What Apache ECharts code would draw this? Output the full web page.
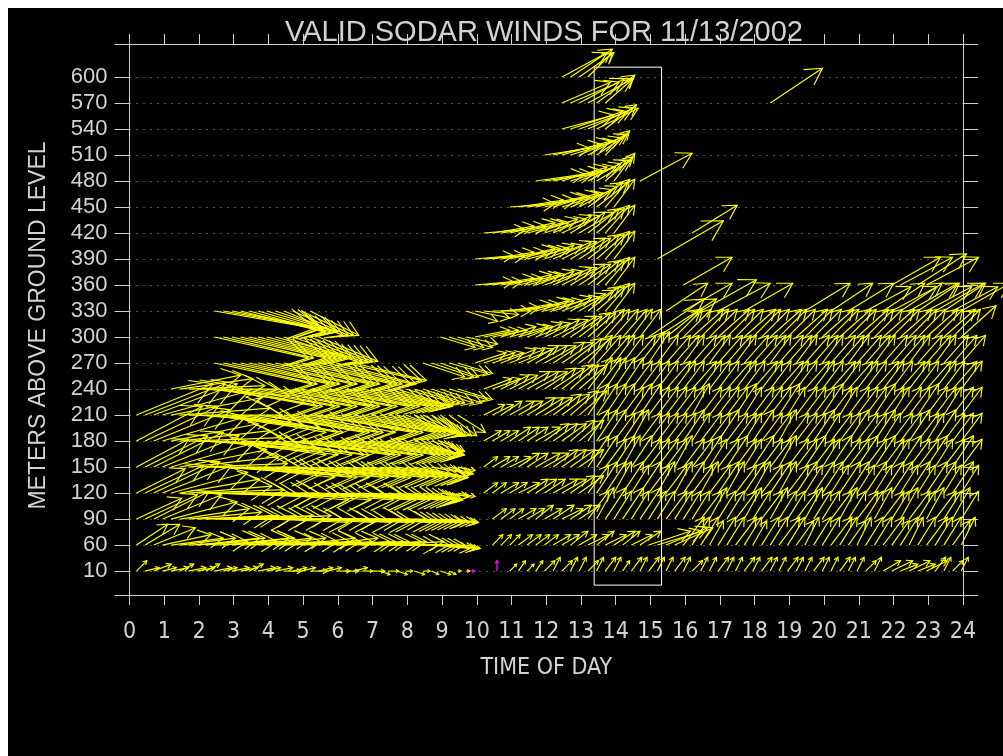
<!DOCTYPE html>
<html>
<head>
<meta charset="utf-8">
<script src="https://cdn.jsdelivr.net/npm/echarts@6/dist/echarts.min.js"></script>
<style>
  html, body { margin: 0; padding: 0; background: #ffffff; }
  #chart { position: absolute; left: 8px; top: 8px; width: 995px; height: 748px; background: #000000; }
</style>
</head>
<body>
<div id="chart"></div>
<script>
// Sodar wind profile: one arrow per 15-minute average at each range gate.
// u = eastward, v = northward component (kt); arrow points where the wind blows to.
const _ = null;

const TITLE = 'VALID SODAR WINDS FOR 11/13/2002';
const HEIGHTS = [10, 60, 90, 120, 150, 180, 210, 240, 270, 300, 330, 360, 390, 420, 450, 480, 510, 540, 570, 600];
const HOURS = [0, 1, 2, 3, 4, 5, 6, 7, 8, 9, 10, 11, 12, 13, 14, 15, 16, 17, 18, 19, 20, 21, 22, 23, 24];
const FIRST_SLOT_HOUR = 0.2;    // first averaging period
const SLOT_HOURS = 0.25;        // 15-minute averages

const u010 = [3,4,5,4,5,4,5,5,4,5,4,5, 5,4,5,4,5,5,4,4,5,4,4,4, 4,4,3,4,3,3,3,2,3,2,2,3, 2,1,1,_,_,_,_,2,2,2,2,3,
              2,3,2,2,3,2,3,2,2,3,2,3, 2,2,3,2,3,2,2,3,2,2,3,2, 3,2,2,3,2,2,3,2,2,3,2,2, 3,2,5,6,5,6,5,6,3,2,3,2];
const v010 = [3,1,2,1,1,2,1,1,2,1,1,1, 1,2,1,1,1,0,1,1,0,1,1,0, 0,1,0,0,-1,0,-1,0,-1,0,-1,-1, -1,0,0,_,_,_,_,2,3,2,3,3,
              4,3,4,4,3,4,4,4,3,4,4,4, 4,4,4,4,3,4,4,4,4,4,4,4, 4,4,4,4,4,4,4,4,4,4,4,4, 3,4,3,3,2,3,2,3,4,4,3,4];

const u060 = [9,10,12,14,15,16,17,18,17,18,19,18, 17,18,18,17,18,19,18,17,18,17,18,17, 17,16,17,16,17,16,15,14,13,12,11,10, 8,6,4,_,_,3,3,3,4,4,4,4,
              5,5,5,5,6,5,6,6,5,6,6,12, 13,12,11,6,5,5,4,5,5,6,5,4, 5,5,6,5,5,4,5,5,6,5,5,4, 5,5,6,5,5,4,5,6,5,5,5,4];
const v060 = [6,6,5,3,2,2,1,2,2,1,2,2, 1,2,1,2,1,1,2,1,1,2,1,1, 1,1,1,1,0,1,0,0,0,0,-1,-1, -1,-1,-1,_,_,3,3,3,3,3,3,3,
              3,3,4,3,3,4,3,4,4,3,4,4, 4,5,5,8,8,8,7,8,8,8,8,7, 8,8,8,8,7,8,8,8,8,8,7,8, 8,8,8,7,8,8,8,8,8,8,7,8];

const u090 = [13,15,16,17,19,20,21,22,21,22,21,22, 21,22,21,22,21,21,22,21,20,21,22,21, 20,21,20,19,18,17,16,15,14,12,11,10, 8,6,_,_,_,4,4,4,5,5,5,5,
              6,6,6,6,6,5,6,5,6,5,6,5, 5,6,5,5,5,6,5,5,5,6,5,5, 6,5,5,5,6,5,5,5,6,5,5,6, 5,5,6,5,5,6,5,5,6,5,5,5];
const v090 = [6,7,8,7,5,3,2,1,1,0,1,0, 1,0,1,0,-1,0,0,-1,0,-1,0,-1, -1,0,-1,-1,-1,-1,-1,-1,-1,-1,-1,-1, -1,-1,_,_,_,3,3,3,3,3,4,3,
              4,3,4,4,8,9,9,8,9,8,9,8, 8,8,8,8,8,8,9,8,8,8,9,8, 8,9,8,8,8,9,8,8,8,9,8,8, 8,9,8,8,9,8,8,9,8,8,9,8];

const u120 = [14,17,19,20,22,23,24,25,24,25,26,25, 24,25,26,25,24,25,24,25,24,25,24,23, 23,22,22,21,20,19,17,15,13,11,9,8, 6,5,_,_,4,4,5,5,6,6,6,6,
              7,7,7,7,6,6,6,5,6,5,6,6, 5,6,5,6,6,5,6,6,5,6,6,5, 6,6,5,6,6,5,6,6,5,6,6,5, 6,5,6,6,5,6,5,6,6,5,6,5];
const v120 = [7,8,9,8,6,4,2,1,0,-1,-1,0, -1,-1,-2,-1,-1,-2,-1,-1,-2,-1,-2,-2, -2,-2,-2,-2,-2,-2,-2,-2,-2,-2,-2,-1, -1,-1,_,_,3,3,3,3,3,4,4,4,
              4,4,5,5,8,9,9,9,9,8,9,8, 9,8,9,9,8,9,8,9,9,8,9,9, 8,9,9,8,9,8,9,9,8,9,9,8, 9,8,9,9,8,9,8,9,9,8,9,8];

const u150 = [15,18,20,22,24,25,26,26,27,26,27,26, 27,26,27,26,27,26,26,25,26,25,24,25, 24,24,23,22,22,21,20,18,15,13,11,9, 7,5,_,_,4,5,5,6,6,6,7,7,
              7,7,7,7,6,6,6,6,5,6,6,6, 6,6,5,6,6,6,5,6,6,6,5,6, 6,6,5,6,6,6,6,5,6,6,6,6, 6,6,6,5,6,6,6,6,5,6,6,6];
const v150 = [8,9,10,9,7,5,3,1,0,-1,-2,-2, -3,-2,-3,-3,-3,-2,-3,-3,-3,-3,-3,-3, -3,-3,-3,-3,-3,-3,-3,-3,-3,-3,-2,-2, -2,-1,_,_,3,3,3,3,4,4,4,4,
              5,5,5,5,9,9,8,9,9,9,8,8, 8,8,9,8,8,9,8,8,9,8,8,9, 8,8,9,8,8,9,8,8,9,8,8,9, 8,9,8,8,9,8,8,9,8,8,9,8];

const u180 = [19,21,22,24,25,26,27,27,28,27,28,27, 28,27,27,28,27,27,28,27,26,27,26,25, 26,25,24,23,22,21,19,17,14,11,9,7, _,_,_,_,5,5,5,6,6,6,7,7,
              7,7,7,7,6,6,6,6,6,5,6,6, 6,6,6,6,5,6,6,6,6,6,5,6, 6,6,5,6,6,6,6,5,6,6,6,6, 6,6,5,6,6,6,6,5,6,6,6,6];
const v180 = [10,10,9,7,5,3,1,-1,-2,-3,-3,-4, -4,-3,-4,-4,-4,-3,-4,-4,-4,-4,-4,-4, -4,-4,-4,-4,-4,-4,-4,-4,-4,-4,-3,-3, _,_,_,_,3,3,3,4,4,4,4,5,
              5,5,6,6,9,9,9,8,9,9,8,8, 8,8,8,9,8,8,8,9,8,8,8,9, 8,8,9,8,8,8,9,8,8,8,9,8, 8,9,8,8,8,9,8,8,9,8,8,8];

const u210 = [22,23,24,25,26,26,27,27,28,27,28,27, 28,27,27,28,27,27,26,27,26,27,26,25, 26,25,24,23,22,20,18,16,14,12,10,9, 8,8,_,_,6,6,6,7,7,8,8,8,
              8,8,8,8,6,6,6,6,6,6,6,6, 6,6,6,6,5,6,6,6,6,6,5,6, 6,6,6,5,6,6,6,6,6,5,6,6, 6,6,6,5,6,6,6,6,6,5,6,6];
const v210 = [9,9,9,7,5,2,0,-2,-3,-4,-4,-5, -5,-5,-4,-5,-5,-5,-5,-5,-4,-5,-5,-5, -5,-5,-5,-5,-5,-5,-5,-6,-6,-6,-6,-6, -6,-5,_,_,3,3,4,4,4,5,5,5,
              6,6,7,7,9,9,9,9,8,9,9,8, 8,8,8,8,9,8,8,8,8,9,8,8, 8,8,9,8,8,8,8,9,8,8,8,8, 8,9,8,8,8,8,9,8,8,8,8,8];

const u240 = [_,_,_,_,20,21,22,23,24,26,27,26, 27,26,27,26,27,26,25,26,25,26,25,24, 24,23,22,21,20,18,16,14,13,12,12,12, 11,10,_,_,8,8,8,8,9,9,9,9,
              9,9,8,8,7,7,6,6,6,6,6,6, 6,7,6,6,7,6,6,6,7,6,6,7, 6,6,7,6,6,7,6,6,7,6,7,6, 6,7,6,6,7,6,6,7,6,6,7,6];
const v240 = [_,_,_,_,4,3,1,0,-2,-4,-5,-5, -5,-5,-5,-5,-5,-5,-5,-5,-5,-5,-5,-5, -5,-5,-5,-5,-5,-5,-5,-4,-4,-4,-4,-4, -3,-3,_,_,3,3,4,4,5,5,5,6,
              6,7,7,7,9,9,9,9,9,8,8,8, 8,8,8,8,8,8,8,8,8,8,8,8, 8,8,8,8,8,8,8,8,8,8,8,8, 8,8,8,8,8,8,8,8,8,8,8,8];

const u270 = [_,_,_,_,_,_,_,_,_,28,27,28, 27,26,27,26,27,26,25,26,25,24,24,23, 22,21,_,_,_,_,_,_,_,12,12,11, 11,10,_,9,9,9,10,10,10,9,9,9,
              9,9,9,9,7,7,7,6,6,7,7,6, 6,7,7,6,7,7,6,7,7,6,7,7, 7,6,7,7,6,7,7,6,7,7,6,7, 7,6,7,7,7,6,7,7,6,7,7,7];
const v270 = [_,_,_,_,_,_,_,_,_,-6,-6,-6, -6,-6,-6,-6,-6,-6,-6,-6,-6,-6,-6,-6, -5,-5,_,_,_,_,_,_,_,-4,-4,-4, -3,-3,_,3,3,3,4,4,4,5,5,5,
              6,6,7,7,8,8,8,8,8,8,9,9, 8,8,8,8,8,8,8,8,8,8,8,8, 8,8,8,8,8,8,8,8,8,8,8,8, 8,8,8,8,8,8,8,8,8,8,8,8];

const u300 = [_,_,_,_,_,_,_,_,_,27,26,27, 26,25,24,23,22,21,20,19,18,17,_,_, _,_,_,_,_,_,_,_,_,_,_,10, 10,10,9,10,10,10,10,11,10,10,10,10,
              10,10,9,9,8,8,7,7,7,6,6,16, 17,10,8,8,9,8,8,9,8,8,9,8, 8,9,8,8,9,8,8,9,8,9,8,9, 8,8,9,8,9,8,8,9,8,9,8,10];
const v300 = [_,_,_,_,_,_,_,_,_,-6,-6,-6, -6,-6,-6,-6,-6,-7,-7,-7,-7,-7,_,_, _,_,_,_,_,_,_,_,_,_,_,-3, -3,-3,-2,2,2,2,3,3,3,4,4,5,
              5,6,6,7,7,8,8,8,8,8,8,11, 11,8,8,8,8,8,8,8,8,8,8,8, 8,8,8,8,8,8,8,8,8,8,8,8, 8,8,8,8,8,8,8,8,8,8,8,9];

const u330 = [_,_,_,_,_,_,_,_,_,29,28,26, 24,22,21,20,18,17,16,15,14,_,_,_, _,_,_,_,_,_,_,_,_,_,_,_, _,_,9,10,10,11,11,12,12,12,11,11,
              11,11,10,10,9,8,7,6,_,_,_,_, _,12,_,14,_,16,_,15,_,_,14,_, _,_,_,_,_,13,_,_,12,_,13,_, 13,_,12,13,12,14,12,13,14,12,13,14];
const v330 = [_,_,_,_,_,_,_,_,_,-5,-5,-5, -6,-6,-6,-6,-6,-7,-7,-7,-7,_,_,_, _,_,_,_,_,_,_,_,_,_,_,_, _,_,-3,-2,-1,0,1,2,2,3,3,3,
              4,4,5,6,7,7,8,8,_,_,_,_, _,8,_,8,_,9,_,8,_,_,8,_, _,_,_,_,_,8,_,_,8,_,8,_, 7,_,8,7,8,8,8,7,8,8,7,8];

const u360 = [_,_,_,_,_,_,_,_,_,_,_,_, _,_,_,_,_,_,_,_,_,_,_,_, _,_,_,_,_,_,_,_,_,_,_,_, _,_,_,11,11,12,12,12,12,11,11,11,
              11,10,10,9,9,8,7,6,_,_,_,_, _,_,_,14,_,_,_,_,_,_,_,_, _,_,_,_,_,_,_,_,_,_,_,_, _,_,_,14,15,_,14,15,_,_,_,_];
const v360 = [_,_,_,_,_,_,_,_,_,_,_,_, _,_,_,_,_,_,_,_,_,_,_,_, _,_,_,_,_,_,_,_,_,_,_,_, _,_,_,1,1,2,2,3,3,3,4,4,
              5,5,6,6,7,7,8,8,_,_,_,_, _,_,_,8,_,_,_,_,_,_,_,_, _,_,_,_,_,_,_,_,_,_,_,_, _,_,_,8,8,_,9,8,_,_,_,_];

const u390 = [_,_,_,_,_,_,_,_,_,_,_,_, _,_,_,_,_,_,_,_,_,_,_,_, _,_,_,_,_,_,_,_,_,_,_,_, _,_,_,11,12,12,13,13,12,12,11,11,
              11,10,10,9,9,8,7,6,_,_,_,_, 19,_,_,_,_,_,_,_,_,_,_,_, _,_,_,_,_,_,_,_,_,_,_,_, _,_,_,_,_,_,_,_,_,_,_,_];
const v390 = [_,_,_,_,_,_,_,_,_,_,_,_, _,_,_,_,_,_,_,_,_,_,_,_, _,_,_,_,_,_,_,_,_,_,_,_, _,_,_,1,1,2,2,3,3,3,4,4,
              5,5,6,6,7,7,8,8,_,_,_,_, 11,_,_,_,_,_,_,_,_,_,_,_, _,_,_,_,_,_,_,_,_,_,_,_, _,_,_,_,_,_,_,_,_,_,_,_];

const u420 = [_,_,_,_,_,_,_,_,_,_,_,_, _,_,_,_,_,_,_,_,_,_,_,_, _,_,_,_,_,_,_,_,_,_,_,_, _,_,_,_,12,12,13,13,13,12,12,12,
              11,11,10,10,9,8,7,6,_,_,_,_, _,_,_,_,13,_,_,_,_,_,_,_, _,_,_,_,_,_,_,_,_,_,_,_, _,_,_,_,_,_,_,_,_,_,_,_];
const v420 = [_,_,_,_,_,_,_,_,_,_,_,_, _,_,_,_,_,_,_,_,_,_,_,_, _,_,_,_,_,_,_,_,_,_,_,_, _,_,_,_,1,2,2,3,3,3,4,4,
              5,5,6,6,7,7,8,8,_,_,_,_, _,_,_,_,8,_,_,_,_,_,_,_, _,_,_,_,_,_,_,_,_,_,_,_, _,_,_,_,_,_,_,_,_,_,_,_];

const u450 = [_,_,_,_,_,_,_,_,_,_,_,_, _,_,_,_,_,_,_,_,_,_,_,_, _,_,_,_,_,_,_,_,_,_,_,_, _,_,_,_,_,_,_,13,13,14,14,13,
              13,12,12,11,10,9,7,6,_,_,_,_, _,_,_,_,_,_,_,_,_,_,_,_, _,_,_,_,_,_,_,_,_,_,_,_, _,_,_,_,_,_,_,_,_,_,_,_];
const v450 = [_,_,_,_,_,_,_,_,_,_,_,_, _,_,_,_,_,_,_,_,_,_,_,_, _,_,_,_,_,_,_,_,_,_,_,_, _,_,_,_,_,_,_,1,2,2,3,3,
              4,4,5,6,7,7,8,8,_,_,_,_, _,_,_,_,_,_,_,_,_,_,_,_, _,_,_,_,_,_,_,_,_,_,_,_, _,_,_,_,_,_,_,_,_,_,_,_];

const u480 = [_,_,_,_,_,_,_,_,_,_,_,_, _,_,_,_,_,_,_,_,_,_,_,_, _,_,_,_,_,_,_,_,_,_,_,_, _,_,_,_,_,_,_,_,_,_,14,14,
              14,13,13,12,11,10,8,6,_,_,15,_, _,_,_,_,_,_,_,_,_,_,_,_, _,_,_,_,_,_,_,_,_,_,_,_, _,_,_,_,_,_,_,_,_,_,_,_];
const v480 = [_,_,_,_,_,_,_,_,_,_,_,_, _,_,_,_,_,_,_,_,_,_,_,_, _,_,_,_,_,_,_,_,_,_,_,_, _,_,_,_,_,_,_,_,_,_,2,2,
              3,4,4,5,6,6,7,8,_,_,8,_, _,_,_,_,_,_,_,_,_,_,_,_, _,_,_,_,_,_,_,_,_,_,_,_, _,_,_,_,_,_,_,_,_,_,_,_];

const u510 = [_,_,_,_,_,_,_,_,_,_,_,_, _,_,_,_,_,_,_,_,_,_,_,_, _,_,_,_,_,_,_,_,_,_,_,_, _,_,_,_,_,_,_,_,_,_,_,13,
              14,14,13,12,11,9,7,_,_,_,_,_, _,_,_,_,_,_,_,_,_,_,_,_, _,_,_,_,_,_,_,_,_,_,_,_, _,_,_,_,_,_,_,_,_,_,_,_];
const v510 = [_,_,_,_,_,_,_,_,_,_,_,_, _,_,_,_,_,_,_,_,_,_,_,_, _,_,_,_,_,_,_,_,_,_,_,_, _,_,_,_,_,_,_,_,_,_,_,2,
              3,4,4,5,6,6,7,_,_,_,_,_, _,_,_,_,_,_,_,_,_,_,_,_, _,_,_,_,_,_,_,_,_,_,_,_, _,_,_,_,_,_,_,_,_,_,_,_];

const u540 = [_,_,_,_,_,_,_,_,_,_,_,_, _,_,_,_,_,_,_,_,_,_,_,_, _,_,_,_,_,_,_,_,_,_,_,_, _,_,_,_,_,_,_,_,_,_,_,_,
              _,15,15,14,13,12,9,_,_,_,_,_, _,_,_,_,_,_,_,_,_,_,_,_, _,_,_,_,_,_,_,_,_,_,_,_, _,_,_,_,_,_,_,_,_,_,_,_];
const v540 = [_,_,_,_,_,_,_,_,_,_,_,_, _,_,_,_,_,_,_,_,_,_,_,_, _,_,_,_,_,_,_,_,_,_,_,_, _,_,_,_,_,_,_,_,_,_,_,_,
              _,4,5,5,6,6,7,_,_,_,_,_, _,_,_,_,_,_,_,_,_,_,_,_, _,_,_,_,_,_,_,_,_,_,_,_, _,_,_,_,_,_,_,_,_,_,_,_];

const u570 = [_,_,_,_,_,_,_,_,_,_,_,_, _,_,_,_,_,_,_,_,_,_,_,_, _,_,_,_,_,_,_,_,_,_,_,_, _,_,_,_,_,_,_,_,_,_,_,_,
              _,14,14,13,13,11,8,_,_,_,_,_, _,_,_,_,_,_,_,_,_,_,_,_, _,15,_,_,_,_,_,_,_,_,_,_, _,_,_,_,_,_,_,_,_,_,_,_];
const v570 = [_,_,_,_,_,_,_,_,_,_,_,_, _,_,_,_,_,_,_,_,_,_,_,_, _,_,_,_,_,_,_,_,_,_,_,_, _,_,_,_,_,_,_,_,_,_,_,_,
              _,6,6,7,7,8,7,_,_,_,_,_, _,_,_,_,_,_,_,_,_,_,_,_, _,10,_,_,_,_,_,_,_,_,_,_, _,_,_,_,_,_,_,_,_,_,_,_];

const u600 = [_,_,_,_,_,_,_,_,_,_,_,_, _,_,_,_,_,_,_,_,_,_,_,_, _,_,_,_,_,_,_,_,_,_,_,_, _,_,_,_,_,_,_,_,_,_,_,_,
              _,13,12,10,7,_,_,_,_,_,_,_, _,_,_,_,_,_,_,_,_,_,_,_, _,_,_,_,_,_,_,_,_,_,_,_, _,_,_,_,_,_,_,_,_,_,_,_];
const v600 = [_,_,_,_,_,_,_,_,_,_,_,_, _,_,_,_,_,_,_,_,_,_,_,_, _,_,_,_,_,_,_,_,_,_,_,_, _,_,_,_,_,_,_,_,_,_,_,_,
              _,7,8,7,7,_,_,_,_,_,_,_, _,_,_,_,_,_,_,_,_,_,_,_, _,_,_,_,_,_,_,_,_,_,_,_, _,_,_,_,_,_,_,_,_,_,_,_];

// Periods flagged by the quality check (drawn in magenta), 10 m gate
const flaggedHours = [9.84, 10.58];
const flaggedU = [1, 0];
const flaggedV = [0, 3];

// Window marked for closer inspection (hours, and range-gate index span)
const windowHours = [13.38, 15.32];
const windowGates = [-0.54, 19.38];

const U_BY_GATE = [u010,u060,u090,u120,u150,u180,u210,u240,u270,u300,u330,u360,u390,u420,u450,u480,u510,u540,u570,u600];
const V_BY_GATE = [v010,v060,v090,v120,v150,v180,v210,v240,v270,v300,v330,v360,v390,v420,v450,v480,v510,v540,v570,v600];

const arrows = [];
HEIGHTS.forEach((h, gi) => {
  U_BY_GATE[gi].forEach((u, k) => {
    const v = V_BY_GATE[gi][k];
    if (u === null || v === null) return;
    arrows.push([FIRST_SLOT_HOUR + k * SLOT_HOURS, gi, u, v]);
  });
});
const flagged = flaggedHours.map((t, i) => [t, 0, flaggedU[i], flaggedV[i]]);

const KT_PER_HOUR_WIDTH = 10;   // 10 kt of wind spans one hour on the time axis

function arrowRenderer(color, width) {
  return function (params, api) {
    const base = api.coord([api.value(0), api.value(1)]);
    const pxPerKt = api.size([1, 0])[0] / KT_PER_HOUR_WIDTH;
    const dx = api.value(2) * pxPerKt;
    const dy = -api.value(3) * pxPerKt;
    const len = Math.hypot(dx, dy);
    const style = { stroke: color, lineWidth: width, fill: null };
    if (len < 1) {
      return { type: 'circle', shape: { cx: base[0], cy: base[1], r: 1 }, style: { fill: color } };
    }
    const tip = [base[0] + dx, base[1] + dy];
    const ang = Math.atan2(dy, dx);
    const hl = Math.max(3, len * 0.3);
    const spread = 0.52;
    const h1 = [tip[0] + hl * Math.cos(ang + Math.PI - spread), tip[1] + hl * Math.sin(ang + Math.PI - spread)];
    const h2 = [tip[0] + hl * Math.cos(ang + Math.PI + spread), tip[1] + hl * Math.sin(ang + Math.PI + spread)];
    return {
      type: 'group',
      children: [
        { type: 'polyline', shape: { points: [base, tip] }, style },
        { type: 'polyline', shape: { points: [h1, tip, h2] }, style }
      ]
    };
  };
}

const AXIS_COLOR = '#d0d0d0';
const TEXT_COLOR = '#d2d2d2';
const FONT = 'Liberation Sans';
const CONDENSED = '"DejaVu Sans Condensed", "Liberation Sans", sans-serif';
const gateTicks = HEIGHTS.map((h, i) => i);
const GATE_MIN = -0.92;
const GATE_MAX = 20.27;
// frame corners get a tick too, so the top and bottom rules run past the side axes
const sideTicks = [GATE_MIN].concat(gateTicks, [GATE_MAX]);

const frameAxis = {
  axisLine: { onZero: false, lineStyle: { color: AXIS_COLOR, width: 1 } },
  splitLine: { show: false }
};

const chart = echarts.init(document.getElementById('chart'), null, { renderer: 'canvas' });
chart.setOption({
  backgroundColor: '#000000',
  animation: false,
  title: {
    text: TITLE,
    left: 531,
    textAlign: 'center',
    top: 5,
    textStyle: { color: TEXT_COLOR, fontFamily: FONT, fontSize: 29, fontWeight: 'normal' }
  },
  grid: { left: 121.5, right: 40, top: 36, bottom: 161 },
  xAxis: [
    Object.assign({}, frameAxis, {
      type: 'value', min: 0, max: 24, interval: 1, position: 'bottom',
      axisTick: { length: 10, lineStyle: { color: AXIS_COLOR } },
      axisLabel: {
        color: TEXT_COLOR, fontFamily: CONDENSED, fontSize: 23, margin: 26,
        formatter: v => String(HOURS[Math.round(v)])
      },
      name: 'TIME OF DAY', nameLocation: 'middle', nameGap: 62,
      nameTextStyle: { color: TEXT_COLOR, fontFamily: CONDENSED, fontSize: 23 }
    }),
    Object.assign({}, frameAxis, {
      type: 'value', min: 0, max: 24, interval: 1, position: 'top',
      axisTick: { length: 10, lineStyle: { color: AXIS_COLOR } },
      axisLabel: { show: false }
    })
  ],
  yAxis: [
    Object.assign({}, frameAxis, {
      type: 'value', min: GATE_MIN, max: GATE_MAX, position: 'left',
      axisTick: { customValues: sideTicks, length: 15, lineStyle: { color: AXIS_COLOR } },
      axisLabel: {
        customValues: gateTicks, color: TEXT_COLOR, fontFamily: FONT, fontSize: 22, margin: 22,
        formatter: v => String(HEIGHTS[Math.round(v)])
      },
      name: 'METERS ABOVE GROUND LEVEL', nameLocation: 'middle', nameGap: 79, nameRotate: 90,
      nameTextStyle: { color: TEXT_COLOR, fontFamily: FONT, fontSize: 23, padding: [0, 12, 0, 0] }
    }),
    Object.assign({}, frameAxis, {
      type: 'value', min: GATE_MIN, max: GATE_MAX, position: 'right',
      axisTick: { customValues: sideTicks, length: 15, lineStyle: { color: AXIS_COLOR } },
      axisLabel: { show: false }
    })
  ],
  series: [
    {
      name: 'winds',
      type: 'custom',
      xAxisIndex: 0, yAxisIndex: 0,
      renderItem: arrowRenderer('#ffff00', 1.15),
      data: arrows,
      encode: { x: 0, y: 1 },
      clip: false,
      silent: true,
      z: 3,
      markLine: {
        silent: true,
        symbol: ['none', 'none'],
        label: { show: false },
        lineStyle: { type: [1, 6], color: '#b4b400', width: 1 },
        data: gateTicks.map(i => ({ yAxis: i })),
        z: 1
      }
    },
    {
      name: 'flagged',
      type: 'custom',
      xAxisIndex: 0, yAxisIndex: 0,
      renderItem: arrowRenderer('#ff00ff', 1.3),
      data: flagged,
      encode: { x: 0, y: 1 },
      clip: false,
      silent: true,
      z: 4
    },
    {
      name: 'window',
      type: 'line',
      data: [],
      silent: true,
      z: 6,
      markArea: {
        silent: true,
        itemStyle: { color: 'rgba(0,0,0,0)', borderColor: '#ffffff', borderWidth: 1 },
        data: [[{ xAxis: windowHours[0], yAxis: windowGates[0] }, { xAxis: windowHours[1], yAxis: windowGates[1] }]]
      }
    }
  ]
});
</script>
</body>
</html>
